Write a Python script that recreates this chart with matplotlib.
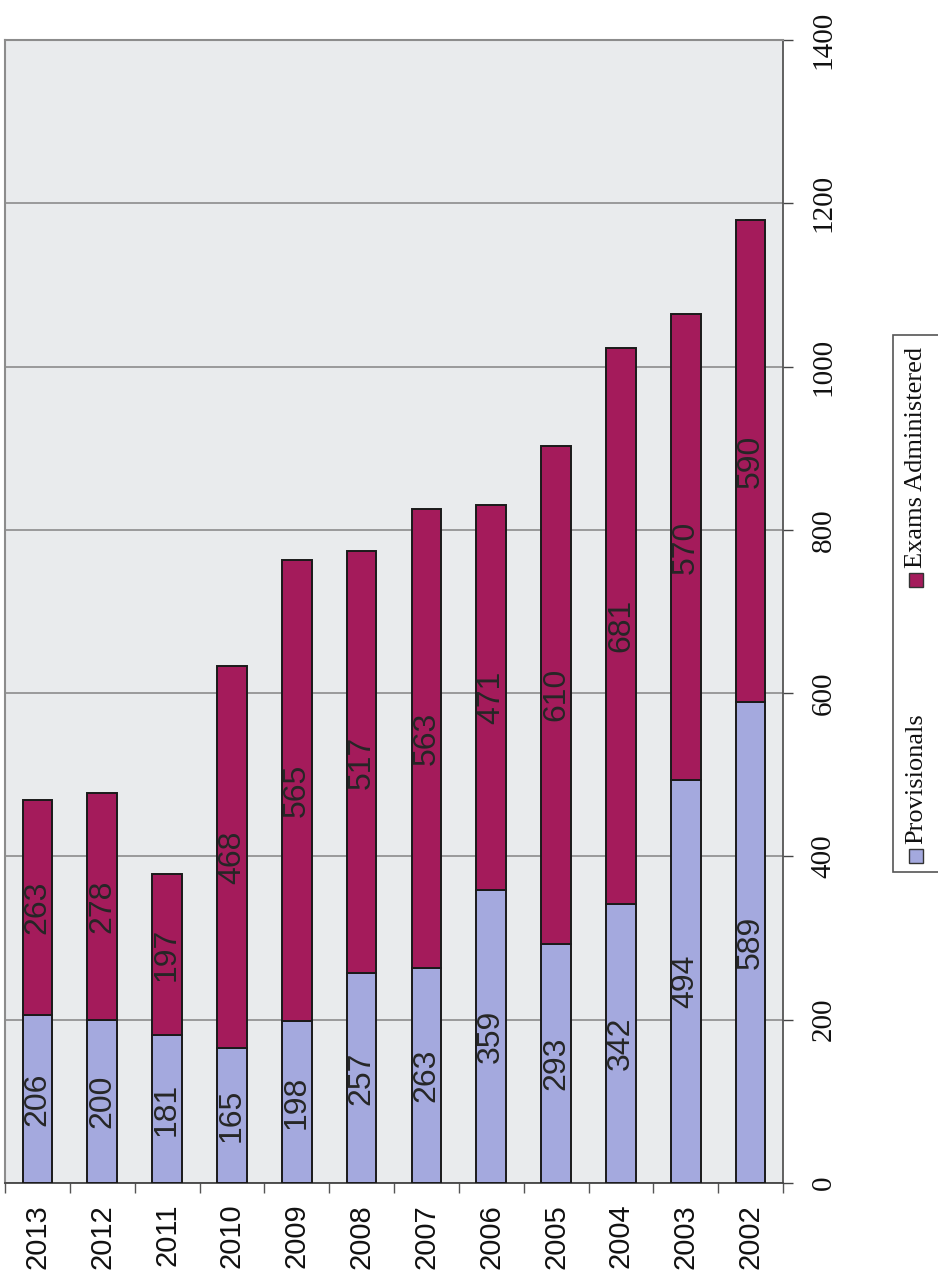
import numpy as np
import matplotlib
matplotlib.use('Agg')
import matplotlib.pyplot as plt
from matplotlib.patches import Rectangle


years = ['2013', '2012', '2011', '2010', '2009', '2008',
         '2007', '2006', '2005', '2004', '2003', '2002']
provisionals = [206, 200, 181, 165, 198, 257, 263, 359, 293, 342, 494, 589]
exams = [263, 278, 197, 468, 565, 517, 563, 471, 610, 681, 570, 590]
value_ticks = [0, 200, 400, 600, 800, 1000, 1200, 1400]

prov_color = '#a4a9de'
exam_color = '#a41b5b'


def plot_counts():
    """
    Stacked columns of provisionals and exams per year, laid out sideways
    with every label turned a quarter turn
    """
    fig = plt.figure(figsize=(9.38, 12.74), dpi=100)
    ax = fig.add_axes([5 / 938, 1 - 1183 / 1274, 778 / 938, 1143 / 1274])
    ax.set_facecolor('#e9ebed')

    x_pos = np.arange(len(years))
    b1 = ax.bar(x_pos, provisionals, width=0.46, color=prov_color,
                edgecolor='#1a1a1a', linewidth=1.4, zorder=3)
    b2 = ax.bar(x_pos, exams, width=0.46, bottom=provisionals, color=exam_color,
                edgecolor='#1a1a1a', linewidth=1.4, zorder=3)

    for bars in (b1, b2):
        ax.bar_label(bars, label_type='center', rotation=90, fontsize=23,
                     color='#262626', family='Liberation Sans', zorder=4)

    ax.set_xlim(-0.5, len(years) - 0.5)
    ax.set_ylim(0, 1400)

    # year labels under each column, tick marks between columns
    ax.set_xticks(x_pos)
    ax.set_xticklabels(years, rotation=90, fontsize=21, family='Liberation Sans',
                       color='#111111')
    ax.tick_params(axis='x', which='major', length=0, pad=15)
    ax.set_xticks(np.arange(-0.5, len(years)), minor=True)
    ax.tick_params(axis='x', which='minor', length=7, width=1.0, color='#555555',
                   direction='out')

    # value axis on the right
    ax.yaxis.tick_right()
    ax.set_yticks(value_ticks)
    ax.set_yticklabels([str(v) for v in value_ticks], rotation=90, fontsize=21,
                       family='Liberation Serif', va='center', color='#111111')
    ax.tick_params(axis='y', length=7, width=1.0, color='#444444', pad=13)

    ax.grid(axis='y', color='#8c8c8c', linewidth=1.2, zorder=1)
    ax.set_axisbelow(True)
    for side in ('left', 'top'):
        ax.spines[side].set_color('#8c8c8c')
        ax.spines[side].set_linewidth(1.5)
    ax.spines['bottom'].set_color('#444444')
    ax.spines['right'].set_color('#555555')
    ax.spines['bottom'].set_linewidth(1.3)
    ax.spines['right'].set_linewidth(1.3)

    # legend box, turned to run along the value axis
    fig.patches.append(Rectangle((893 / 938, 1 - 872 / 1274), 60 / 938, 537 / 1274,
                                 transform=fig.transFigure, facecolor='white',
                                 edgecolor='#555555', linewidth=1.2))
    entries = [('Provisionals', prov_color, 856), ('Exams Administered', exam_color, 580)]
    for name, color, y_mark in entries:
        fig.patches.append(Rectangle((909 / 938, 1 - (y_mark + 7) / 1274), 14 / 938, 14 / 1274,
                                     transform=fig.transFigure, facecolor=color,
                                     edgecolor='#333333', linewidth=1.0))
        fig.text(916 / 938, 1 - (y_mark - 12) / 1274, name, rotation=90,
                 ha='center', va='bottom', fontsize=19, family='Liberation Serif',
                 color='#111111')

    fig.savefig('out.png', dpi=100, facecolor='white')


if __name__ == '__main__':
    plot_counts()
